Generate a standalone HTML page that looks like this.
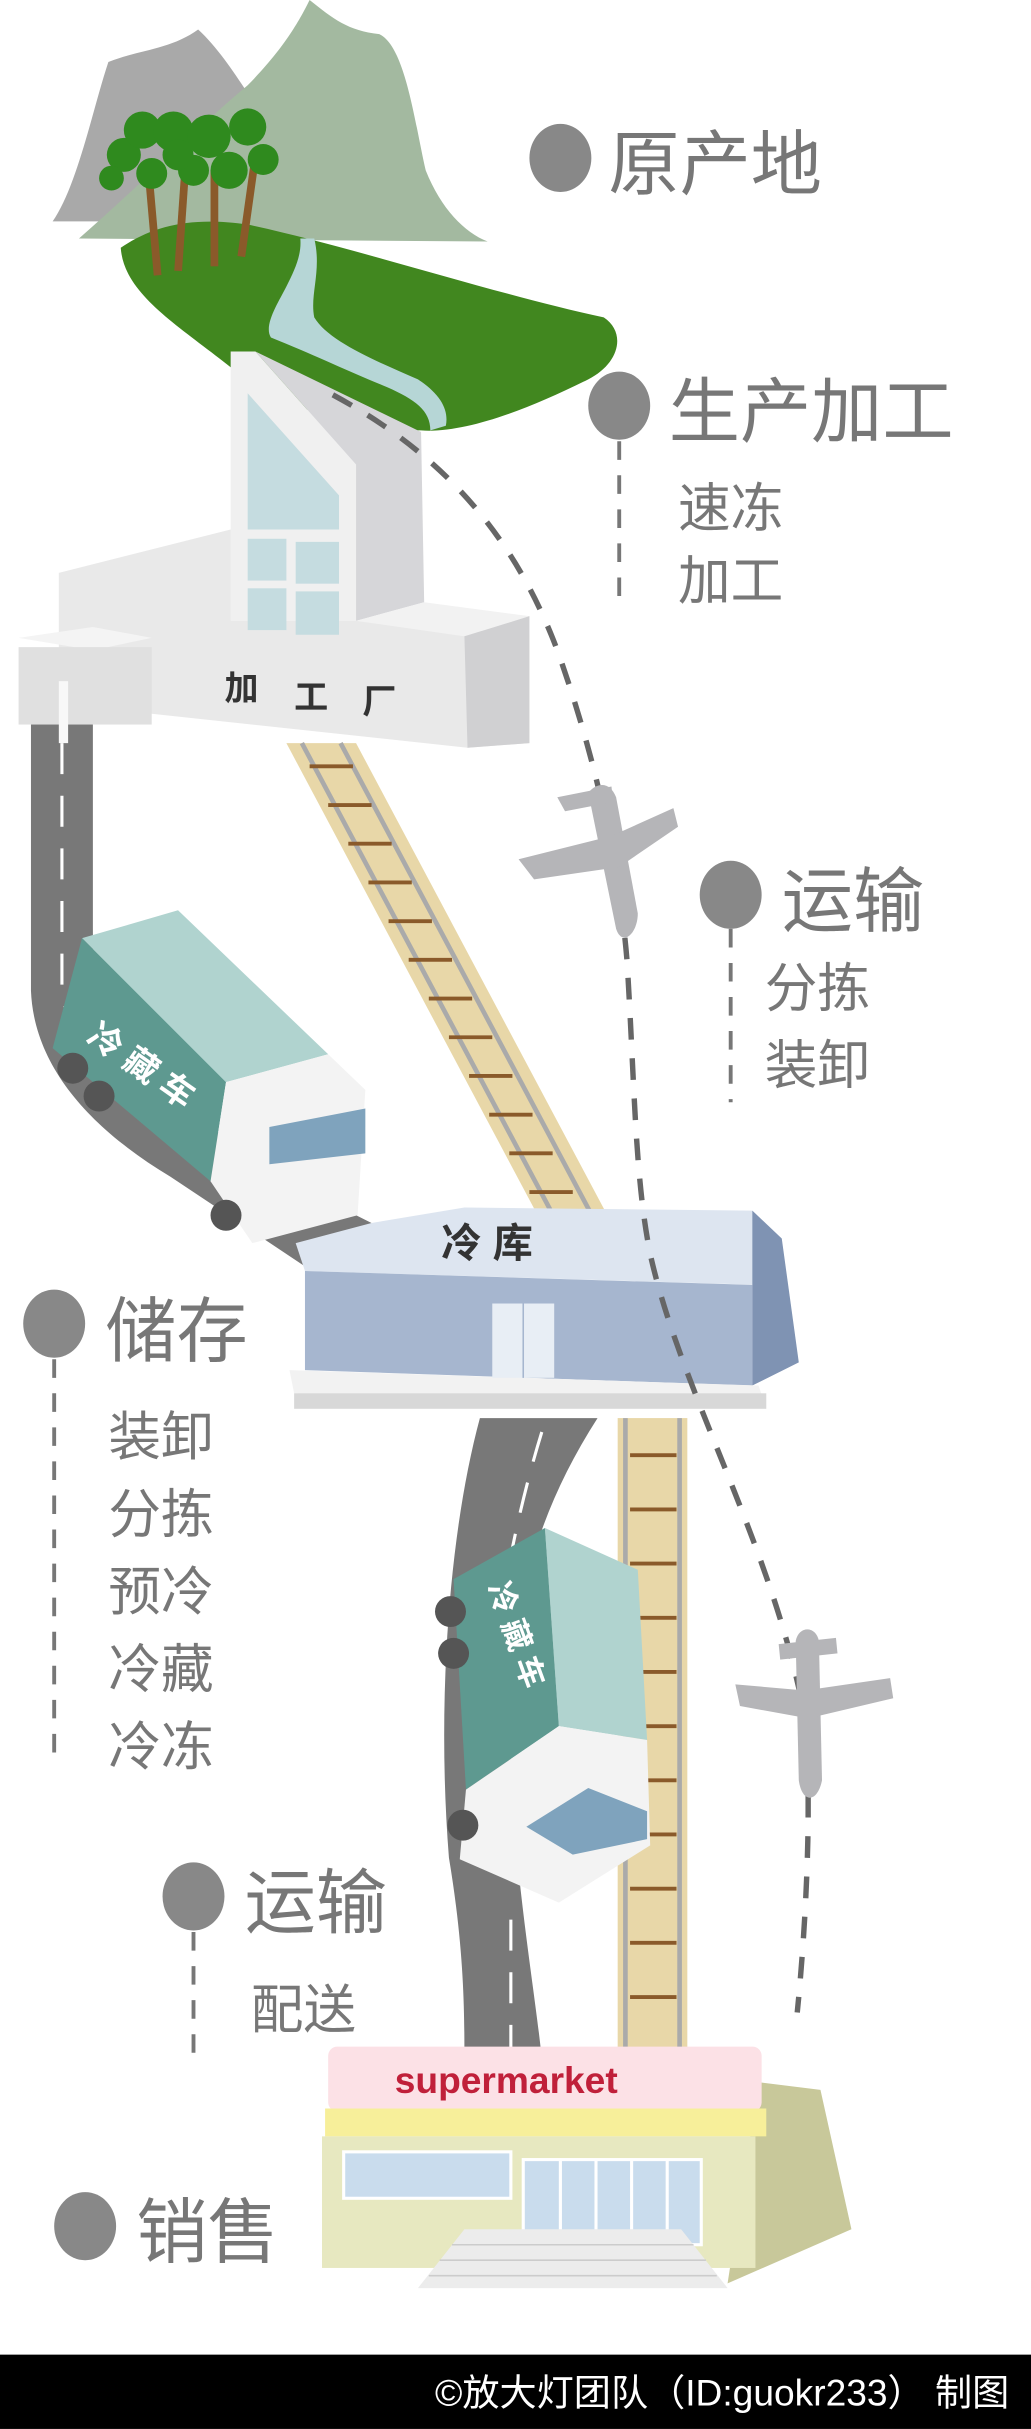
<!DOCTYPE html>
<html><head><meta charset="utf-8">
<style>
html,body{margin:0;padding:0;background:#fff;}
svg{display:block;}
text{font-family:"Liberation Sans","Noto Sans CJK SC",sans-serif;}
</style></head>
<body>
<svg width="1031" height="2429" viewBox="0 0 666 1569" xmlns="http://www.w3.org/2000/svg">
<rect width="666" height="1569" fill="#fff"/>
<!-- mountains -->
<path d="M34,143 C50,120 60,70 70,40 C90,32 110,32 128,19 C140,30 150,45 160,60 L200,143 Z" fill="#a9a9a9"/>
<path d="M51,154 C90,120 130,80 160,55 C185,30 195,10 200,0 C215,12 225,20 245,22 C262,30 268,80 275,110 C285,135 300,150 315,156 Z" fill="#a3b9a0"/>
<!-- hill -->
<path d="M78,160 C100,145 125,140 160,145 C230,160 320,190 390,205 C405,215 400,235 380,245 C340,265 300,280 272,278 C220,278 180,260 150,238 C115,210 80,190 78,160 Z" fill="#41871f"/>
<!-- river -->
<path d="M194,154 L203,154 C208,175 200,190 203,205 C212,220 240,232 270,245 C285,255 290,265 288,275 L278,278 C278,265 268,258 250,250 C225,240 205,230 175,218 C170,210 180,195 185,185 C190,175 195,165 194,154 Z" fill="#b6d6d6"/>
<!-- trees -->
<g fill="#8a5a2a"><rect x="96" y="110" width="5" height="68" transform="rotate(-5 98 140)"/><rect x="115" y="115" width="5" height="60" transform="rotate(4 117 140)"/><rect x="136" y="110" width="5" height="62"/><rect x="157" y="108" width="5" height="58" transform="rotate(8 160 140)"/></g>
<g fill="#2f8a1e"><circle cx="80" cy="100" r="11"/><circle cx="92" cy="84" r="12"/><circle cx="112" cy="85" r="13"/><circle cx="98" cy="112" r="10"/><circle cx="135" cy="88" r="14"/><circle cx="160" cy="82" r="12"/><circle cx="170" cy="103" r="10"/><circle cx="148" cy="110" r="12"/><circle cx="125" cy="110" r="10"/><circle cx="72" cy="115" r="8"/><circle cx="115" cy="100" r="10"/></g>
<!-- road top -->
<path d="M20,460 L20,640 C22,690 60,730 110,760 L200,820 L240,790 C180,760 120,720 90,690 C65,660 60,640 60,600 L60,460 Z" fill="#787878"/>
<path d="M40,480 L40,640 C45,680 80,715 130,750" stroke="#fff" stroke-width="2" fill="none" stroke-dasharray="20 14"/>
<!-- rail top -->
<path d="M185,480 L230,480 L395,790 L350,790 Z" fill="#e8d7a8"/>
<path d="M195,480 L360,790 M220,480 L385,790" stroke="#aaa" stroke-width="3"/>
<g stroke="#8a5a2a" stroke-width="2.5"><line x1="200" y1="495" x2="228" y2="495"/><line x1="212" y1="520" x2="240" y2="520"/><line x1="225" y1="545" x2="253" y2="545"/><line x1="238" y1="570" x2="266" y2="570"/><line x1="251" y1="595" x2="279" y2="595"/><line x1="264" y1="620" x2="292" y2="620"/><line x1="277" y1="645" x2="305" y2="645"/><line x1="290" y1="670" x2="318" y2="670"/><line x1="303" y1="695" x2="331" y2="695"/><line x1="316" y1="720" x2="344" y2="720"/><line x1="329" y1="745" x2="357" y2="745"/><line x1="342" y1="770" x2="370" y2="770"/></g>
<!-- factory -->
<polygon points="38,370 149,342 230,342 230,401 342,410 342,480 302,483 98,461 38,455" fill="#e9e9e9"/>
<polygon points="149,227 165,227 230,300 230,401 149,401" fill="#f0f0f0"/>
<polygon points="165,227 272,279 274,389 230,401 230,300" fill="#d6d6d9"/>
<polygon points="160,254 219,320 219,342 160,342" fill="#c5dce0"/>
<g fill="#c5dce0"><rect x="160" y="348" width="25" height="27"/><rect x="191" y="350" width="28" height="27"/><rect x="160" y="380" width="25" height="27"/><rect x="191" y="382" width="28" height="28"/></g>
<polygon points="230,401 274,389 342,398 300,411" fill="#f2f2f2"/>
<polygon points="300,411 342,398 342,480 302,483" fill="#d0d0d2"/>
<polygon points="12,412 60,405 98,412 60,420" fill="#f4f4f4"/>
<rect x="12" y="418" width="86" height="50" fill="#e0e0e0"/>
<rect x="38" y="440" width="6" height="40" fill="#f8f8f8"/>
<text x="145" y="452" font-size="22" font-weight="bold" fill="#333">加</text>
<text x="190" y="458" font-size="22" font-weight="bold" fill="#333">工</text>
<text x="234" y="461" font-size="22" font-weight="bold" fill="#333">厂</text>
<!-- truck 1 -->
<polygon points="53,606 115,588 212,681 146,699" fill="#b0d3cf"/>
<polygon points="34,677 53,606 146,699 136,763" fill="#5e9990"/>
<polygon points="146,699 212,681 236,704 231,785 163,803 136,763" fill="#f3f3f3"/>
<polygon points="174,728 236,716 236,745 174,752" fill="#7fa3bd"/>
<circle cx="47" cy="690" r="10" fill="#555"/><circle cx="64" cy="708" r="10" fill="#555"/><circle cx="146" cy="785" r="10" fill="#555"/>
<text x="55" y="672" font-size="22" fill="#fff" font-weight="bold" transform="rotate(35 55 672)">冷 藏 车</text>
<!-- road bottom -->
<path d="M310,916 C290,990 282,1100 290,1200 C300,1260 300,1300 300,1330 L350,1330 C345,1280 330,1200 330,1120 C330,1040 345,980 386,916 Z" fill="#787878"/>
<path d="M350,925 C330,990 313,1080 315,1160 M330,1240 L330,1330" stroke="#fff" stroke-width="2" fill="none" stroke-dasharray="20 14"/>
<!-- rail bottom -->
<rect x="399" y="916" width="45" height="414" fill="#e8d7a8"/>
<path d="M404,916 L404,1330 M439,916 L439,1330" stroke="#aaa" stroke-width="3"/>
<g stroke="#8a5a2a" stroke-width="2.5"><line x1="407" y1="940" x2="437" y2="940"/><line x1="407" y1="975" x2="437" y2="975"/><line x1="407" y1="1010" x2="437" y2="1010"/><line x1="407" y1="1045" x2="437" y2="1045"/><line x1="407" y1="1080" x2="437" y2="1080"/><line x1="407" y1="1115" x2="437" y2="1115"/><line x1="407" y1="1150" x2="437" y2="1150"/><line x1="407" y1="1185" x2="437" y2="1185"/><line x1="407" y1="1220" x2="437" y2="1220"/><line x1="407" y1="1255" x2="437" y2="1255"/><line x1="407" y1="1290" x2="437" y2="1290"/></g>
<!-- cold storage -->
<polygon points="191,803 240,790 300,780 486,782 492,830 197,821" fill="#dde5f0"/>
<polygon points="197,821 486,830 486,895 197,885" fill="#a6b6cf"/>
<polygon points="486,782 505,800 516,880 486,895" fill="#7f93b3"/>
<polygon points="187,885 490,895 495,910 190,900" fill="#f2f2f2"/>
<rect x="190" y="900" width="305" height="10" fill="#d8d8d8"/>
<rect x="318" y="842" width="40" height="48" fill="#e8eef5"/>
<line x1="338" y1="842" x2="338" y2="890" stroke="#a6b6cf"/>
<text x="285" y="812" font-size="26" font-weight="bold" fill="#333">冷 库</text>
<!-- truck 2 -->
<polygon points="352,987 412,1014 418,1124 361,1115" fill="#b0d3cf"/>
<polygon points="293,1020 352,987 361,1115 301,1156" fill="#5e9990"/>
<polygon points="301,1156 361,1115 418,1124 420,1192 361,1229 297,1201" fill="#f3f3f3"/>
<polygon points="340,1180 380,1155 418,1170 418,1188 370,1198" fill="#7fa3bd"/>
<circle cx="291" cy="1041" r="10" fill="#555"/><circle cx="293" cy="1068" r="10" fill="#555"/><circle cx="299" cy="1179" r="10" fill="#555"/>
<text x="315" y="1025" font-size="20" fill="#fff" font-weight="bold" transform="rotate(70 315 1025)">冷 藏 车</text>
<!-- supermarket -->
<polygon points="490,1345 530,1350 550,1440 470,1475" fill="#c8c89a"/>
<rect x="212" y="1322" width="280" height="42" rx="6" fill="#fce1e6"/>
<text x="255" y="1352" font-size="24" fill="#c0203a" font-family="Liberation Mono,monospace" font-weight="bold">supermarket</text>
<rect x="210" y="1362" width="285" height="18" fill="#f7ef9a"/>
<rect x="208" y="1380" width="280" height="85" fill="#e7e8c0"/>
<rect x="222" y="1390" width="108" height="30" fill="#c9dced" stroke="#fff" stroke-width="2"/>
<rect x="338" y="1395" width="115" height="55" fill="#c9dced" stroke="#fff" stroke-width="2"/>
<g stroke="#fff" stroke-width="2"><line x1="362" y1="1395" x2="362" y2="1450"/><line x1="385" y1="1395" x2="385" y2="1450"/><line x1="408" y1="1395" x2="408" y2="1450"/><line x1="431" y1="1395" x2="431" y2="1450"/></g>
<polygon points="300,1440 440,1440 470,1478 270,1478" fill="#ececec"/>
<g stroke="#ccc"><line x1="292" y1="1450" x2="448" y2="1450"/><line x1="284" y1="1460" x2="456" y2="1460"/><line x1="277" y1="1470" x2="463" y2="1470"/></g>
<!-- flight path -->
<path d="M215,255 C280,290 330,340 360,420 C385,490 400,560 405,620 C410,700 410,760 420,810 C440,900 500,1000 520,1110 C525,1170 520,1250 515,1300" stroke="#666" stroke-width="3.5" fill="none" stroke-dasharray="14 12"/>
<!-- airplanes -->
<g fill="#b5b5b8">
<path d="M380,512 C386,505 394,505 398,515 L412,590 C412,603 402,612 398,600 Z"/>
<path d="M335,555 L395,540 L435,522 L438,534 L400,560 L345,568 Z"/>
<path d="M360,515 L395,508 L396,518 L365,524 Z"/>
</g>
<g fill="#b5b5b8">
<path d="M514,1060 C516,1050 527,1050 529,1060 L531,1150 C528,1165 518,1165 516,1150 Z"/>
<path d="M475,1088 L520,1092 L575,1084 L577,1097 L522,1110 L478,1102 Z"/>
<path d="M503,1062 L540,1058 L541,1068 L504,1072 Z"/>
</g>
<!-- labels -->
<g fill="#888"><ellipse cx="362" cy="102" rx="20" ry="22"/><ellipse cx="400" cy="262" rx="20" ry="22"/><ellipse cx="472" cy="578" rx="20" ry="22"/><ellipse cx="35" cy="855" rx="20" ry="22"/><ellipse cx="125" cy="1225" rx="20" ry="22"/><ellipse cx="55" cy="1438" rx="20" ry="22"/></g>
<g stroke="#777" stroke-width="2.5" stroke-dasharray="12 10"><line x1="400" y1="285" x2="400" y2="385"/><line x1="472" y1="600" x2="472" y2="712"/><line x1="35" y1="878" x2="35" y2="1140"/><line x1="125" y1="1248" x2="125" y2="1330"/></g>
<g fill="#777">
<text x="393" y="122" font-size="46">原产地</text>
<text x="432" y="282" font-size="46">生产加工</text>
<text x="438" y="340" font-size="34">速冻</text>
<text x="438" y="387" font-size="34">加工</text>
<text x="505" y="598" font-size="46">运输</text>
<text x="494" y="650" font-size="34">分拣</text>
<text x="494" y="700" font-size="34">装卸</text>
<text x="68" y="876" font-size="46">储存</text>
<text x="70" y="940" font-size="34">装卸</text>
<text x="70" y="990" font-size="34">分拣</text>
<text x="70" y="1040" font-size="34">预冷</text>
<text x="70" y="1090" font-size="34">冷藏</text>
<text x="70" y="1140" font-size="34">冷冻</text>
<text x="158" y="1245" font-size="46">运输</text>
<text x="162" y="1310" font-size="34">配送</text>
<text x="88" y="1458" font-size="46">销售</text>
</g>
<!-- footer -->
<rect x="0" y="1521" width="666" height="48" fill="#000"/>
<text x="652" y="1554" font-size="24" fill="#fff" text-anchor="end">©放大灯团队（ID:guokr233） 制图</text>
</svg>
</body></html>
